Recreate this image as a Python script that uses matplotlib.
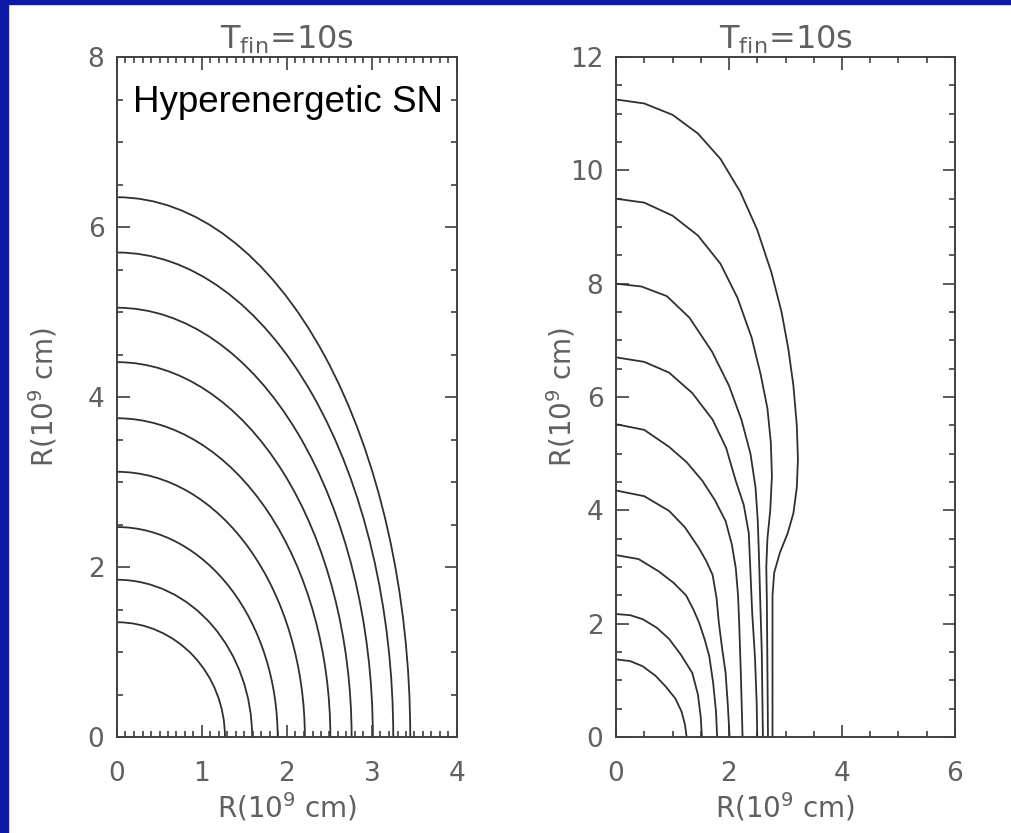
import numpy as np
import matplotlib.pyplot as plt
from matplotlib.patches import Arc, Rectangle
from matplotlib.ticker import MultipleLocator

# left panel: quarter-ellipse shells (height on axis, radius on equator)
left_top = [6.35, 5.70, 5.05, 4.41, 3.75, 3.12, 2.47, 1.85, 1.35]
left_end = [3.45, 3.25, 3.01, 2.76, 2.51, 2.21, 1.89, 1.59, 1.27]

# right panel: shells, (x, y) in 1e9 cm
right_curves = [
    [(0, 1.37), (0.25, 1.34), (0.47, 1.25), (0.7, 1.08), (0.88, 0.89), (1.05, 0.68),
     (1.16, 0.45), (1.22, 0.22), (1.25, 0)],
    [(0, 2.17), (0.25, 2.15), (0.47, 2.08), (0.72, 1.93), (0.94, 1.73), (1.15, 1.45),
     (1.35, 1.13), (1.45, 0.75), (1.5, 0.35), (1.52, 0)],
    [(0, 3.21), (0.4, 3.14), (0.76, 2.92), (1.02, 2.72), (1.24, 2.5), (1.37, 2.25),
     (1.47, 2.02), (1.57, 1.72), (1.65, 1.43), (1.72, 0.95), (1.77, 0.45), (1.79, 0)],
    [(0, 4.35), (0.5, 4.25), (0.94, 3.99), (1.22, 3.7), (1.47, 3.33), (1.6, 3.1),
     (1.71, 2.86), (1.78, 2.45), (1.82, 2.02), (1.88, 1.55), (1.94, 1.13), (1.98, 0.55),
     (2.01, 0)],
    [(0, 5.52), (0.5, 5.42), (0.94, 5.12), (1.25, 4.85), (1.53, 4.52), (1.75, 4.18),
     (1.94, 3.81), (2.05, 3.4), (2.12, 2.98), (2.16, 2.5), (2.18, 2.02), (2.21, 1.1),
     (2.24, 0)],
    [(0, 6.7), (0.5, 6.62), (0.94, 6.43), (1.35, 6.07), (1.71, 5.6), (1.95, 5.1),
     (2.12, 4.52), (2.26, 4.1), (2.35, 3.6), (2.38, 2.9), (2.41, 2.2), (2.46, 1.4),
     (2.49, 0.6), (2.5, 0)],
    [(0, 8.0), (0.45, 7.95), (0.9, 7.78), (1.3, 7.4), (1.7, 6.8), (2.0, 6.2),
     (2.22, 5.6), (2.38, 5.0), (2.47, 4.4), (2.51, 3.8), (2.53, 3.2), (2.55, 2.5),
     (2.58, 1.5), (2.6, 0)],
    [(0, 9.5), (0.5, 9.43), (1.0, 9.2), (1.45, 8.85), (1.85, 8.35), (2.15, 7.75),
     (2.4, 7.05), (2.56, 6.4), (2.68, 5.8), (2.74, 5.2), (2.76, 4.6), (2.73, 4.0),
     (2.68, 3.5), (2.66, 3.0), (2.67, 2.4), (2.69, 0)],
    [(0, 11.25), (0.5, 11.18), (1.0, 10.98), (1.45, 10.65), (1.85, 10.2), (2.2, 9.62),
     (2.5, 8.95), (2.75, 8.2), (2.93, 7.5), (3.05, 6.85), (3.14, 6.2), (3.2, 5.5),
     (3.22, 4.9), (3.2, 4.4), (3.14, 3.95), (3.04, 3.6), (2.9, 3.25), (2.8, 2.9),
     (2.77, 2.5), (2.77, 0)],
]

title = r'T$_{\rm fin}$=10s'
rlabel = r'R(10$^9$ cm)'

plt.rcParams['font.family'] = ['DejaVu Sans']
plt.rcParams['mathtext.fontset'] = 'dejavusans'
tcol = '#606060'
lcol = '#303030'

fig = plt.figure(figsize=(10.12, 8.33), dpi=100)
fig.patch.set_facecolor('white')

ax1 = fig.add_axes([117 / 1012, 1 - 737 / 833, 340 / 1012, 680 / 833])
ax2 = fig.add_axes([616 / 1012, 1 - 737 / 833, 339 / 1012, 680 / 833])

for a, b in zip(left_end, left_top):
    ax1.add_patch(Arc((0, 0), 2 * a, 2 * b, theta1=0, theta2=90, color=lcol, lw=1.3))
for c in right_curves:
    xs = [p[0] for p in c]
    ys = [p[1] for p in c]
    ax2.plot(xs, ys, color=lcol, lw=1.3)

ax1.set_xlim(0, 4)
ax1.set_ylim(0, 8)
ax2.set_xlim(0, 6)
ax2.set_ylim(0, 12)

ax1.xaxis.set_major_locator(MultipleLocator(1))
ax1.xaxis.set_minor_locator(MultipleLocator(0.1))
ax1.yaxis.set_major_locator(MultipleLocator(2))
ax1.yaxis.set_minor_locator(MultipleLocator(0.5))
ax2.xaxis.set_major_locator(MultipleLocator(2))
ax2.xaxis.set_minor_locator(MultipleLocator(0.5))
ax2.yaxis.set_major_locator(MultipleLocator(2))
ax2.yaxis.set_minor_locator(MultipleLocator(0.5))

for ax in (ax1, ax2):
    for s in ax.spines.values():
        s.set_color('#404040')
        s.set_linewidth(1.4)
    ax.tick_params(which='both', direction='in', top=True, right=True,
                   color='#404040', width=1.2, labelsize=19, labelcolor=tcol)
    ax.tick_params(which='major', length=9)
    ax.tick_params(which='minor', length=4.5)
    ax.tick_params(axis='x', which='major', pad=17)
    ax.tick_params(axis='y', which='major', pad=9)
    ax.set_title(title, fontsize=23, color=tcol, pad=6)
    ax.set_xlabel(rlabel, fontsize=20, color=tcol, labelpad=3)
    ax.set_ylabel(rlabel, fontsize=20, color=tcol)

ax1.yaxis.set_label_coords(-0.168, 0.5)
ax2.yaxis.set_label_coords(-0.115, 0.5)

ax1.text(0.19, 7.46, 'Hyperenergetic SN', fontsize=26.5, color='black',
         family='Liberation Sans', va='center', ha='left')

# slide frame
blue = '#0c1aa6'
fig.patches.append(Rectangle((0, 1 - 4 / 833), 1, 4 / 833, transform=fig.transFigure,
                             color=blue, zorder=10))
fig.patches.append(Rectangle((0, 0), 8 / 1012, 1, transform=fig.transFigure,
                             color=blue, zorder=10))

fig.savefig('out.png', dpi=100)
